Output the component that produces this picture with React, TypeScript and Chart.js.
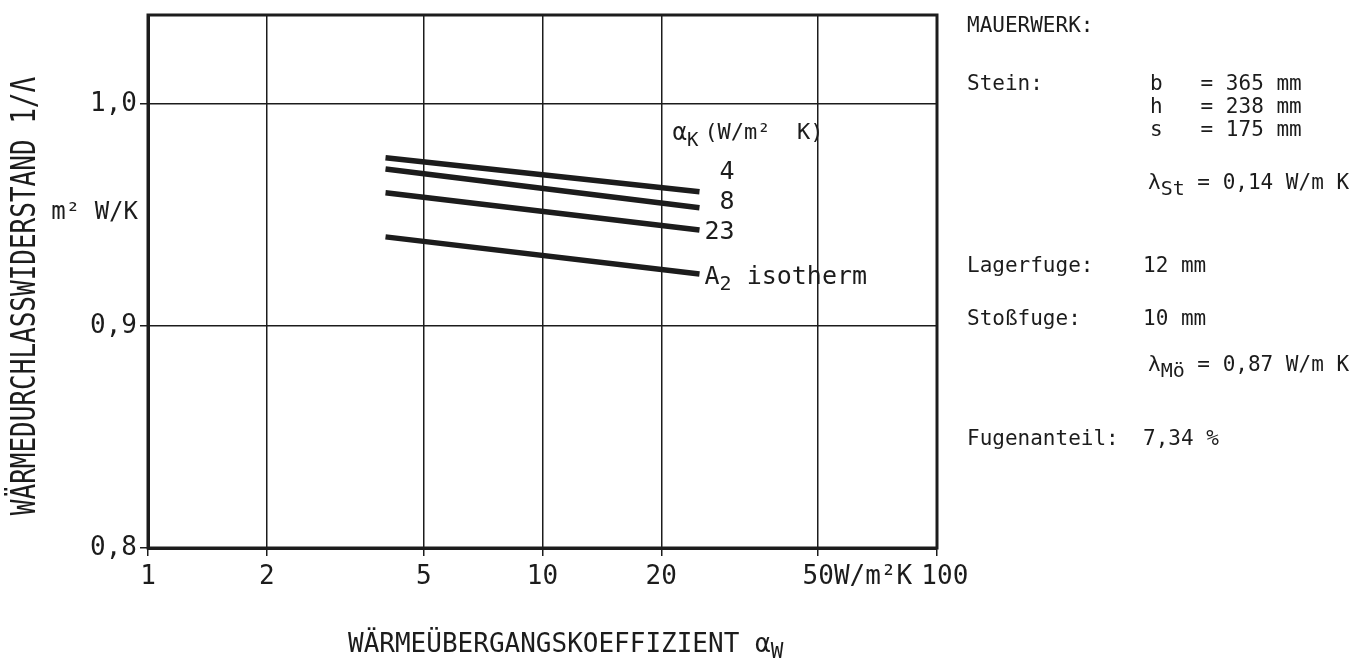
import React, { useEffect, useRef } from "react";
import { Chart, registerables } from "chart.js";

Chart.register(...registerables);

// ---- data ----
const alphaW = [4, 25];
const r4 = [0.9757, 0.9604];
const r8 = [0.9707, 0.9532];
const r23 = [0.96, 0.9432];
const rIso = [0.9401, 0.9234];
const seriesLabels = [" 4", " 8", "23", "A"];
const labelDy = [-19, -5, 3, 4];

const xTicks = [1, 2, 5, 10, 20, 50, 100];
const xTickLabels = ["1", "2", "5", "10", "20", "     50W/m²K", " 100"];
const yTicks = [0.8, 0.9, 1.0];
const yTickLabels = ["0,8", "0,9", "1,0"];

const FONT = '"DejaVu Sans Mono", "Liberation Mono", monospace';
const INK = "#1c1c1c";

function drawSub(
  ctx: CanvasRenderingContext2D,
  x: number,
  y: number,
  main: string,
  sub: string,
  rest: string,
  size: number,
  subDy = 6,
  subScale = 0.8,
  gap = 0,
  restSize = 0
) {
  ctx.font = `${size}px ${FONT}`;
  ctx.fillText(main, x, y);
  let cx = x + ctx.measureText(main).width;
  ctx.font = `${Math.round(size * subScale)}px ${FONT}`;
  ctx.fillText(sub, cx, y + subDy);
  cx += ctx.measureText(sub).width + gap;
  ctx.font = `${restSize || size}px ${FONT}`;
  ctx.fillText(rest, cx, y);
}

const decorPlugin = {
  id: "decor",
  afterDraw(chart: any) {
    const { ctx, chartArea: a, scales } = chart;
    const xs = scales.x;
    const ys = scales.y;
    ctx.save();
    // frame
    ctx.strokeStyle = INK;
    ctx.lineWidth = 3;
    ctx.strokeRect(a.left, a.top, a.right - a.left, a.bottom - a.top);

    ctx.fillStyle = INK;
    ctx.textBaseline = "middle";
    ctx.textAlign = "left";

    // series labels at line ends
    const sets = chart.data.datasets;
    sets.forEach((ds: any, i: number) => {
      const last = ds.data[ds.data.length - 1];
      const px = xs.getPixelForValue(last.x) + 5;
      const py = ys.getPixelForValue(last.y) + labelDy[i];
      if (i === 3) {
        drawSub(ctx, px, py, "A", "2", " isotherm", 25, 7);
      } else {
        ctx.font = `25px ${FONT}`;
        ctx.fillText(seriesLabels[i], px, py);
      }
    });
    // alpha_K header
    const hx = xs.getPixelForValue(alphaW[1]) - 27;
    const hy = ys.getPixelForValue(r4[1]) - 58;
    drawSub(ctx, hx, hy, "α", "K", "(W/m²  K)", 24, 7, 0.8, 6, 22);

    // y unit
    ctx.font = `24px ${FONT}`;
    ctx.textAlign = "right";
    ctx.fillText("m² W/K", a.left - 10, 213);

    // y axis title (condensed, tall glyphs)
    ctx.textAlign = "center";
    ctx.font = `26px ${FONT}`;
    ctx.save();
    ctx.translate(26, 296);
    ctx.rotate(-Math.PI / 2);
    ctx.scale(1, 1.3);
    ctx.fillText("WÄRMEDURCHLASSWIDERSTAND 1/Λ", 0, 0);
    ctx.restore();

    // x axis title
    ctx.textAlign = "left";
    ctx.font = `26px ${FONT}`;
    const xt = "WÄRMEÜBERGANGSKOEFFIZIENT ";
    ctx.fillText(xt, 348, 645);
    const tw = ctx.measureText(xt).width;
    drawSub(ctx, 348 + tw, 645, "α", "W", "", 26, 8);

    // right panel
    const L = a.right + 30;
    const fs = 21;
    ctx.font = `${fs}px ${FONT}`;
    ctx.fillText("MAUERWERK:", L, 27);
    ctx.fillText("Stein:", L, 85);
    ctx.fillText("b   = 365 mm", 1150, 85);
    ctx.fillText("h   = 238 mm", 1150, 108);
    ctx.fillText("s   = 175 mm", 1150, 131);
    drawSub(ctx, 1148, 184, "λ", "St", " = 0,14 W/m K", fs, 6, 0.95);
    ctx.font = `${fs}px ${FONT}`;
    ctx.fillText("Lagerfuge:", L, 267);
    ctx.fillText("12 mm", 1143, 267);
    ctx.fillText("Stoßfuge:", L, 320);
    ctx.fillText("10 mm", 1143, 320);
    drawSub(ctx, 1148, 366, "λ", "Mö", " = 0,87 W/m K", fs, 6, 0.95);
    ctx.font = `${fs}px ${FONT}`;
    ctx.fillText("Fugenanteil:", L, 440);
    ctx.fillText("7,34 %", 1143, 440);
    ctx.restore();
  },
};

export default function App() {
  const ref = useRef<HTMLCanvasElement | null>(null);
  useEffect(() => {
    if (!ref.current) return;
    const mk = (vals: number[]) => alphaW.map((x, i) => ({ x, y: vals[i] }));
    const lineStyle = {
      borderColor: INK,
      borderWidth: 5.5,
      pointRadius: 0,
      fill: false,
      tension: 0,
      borderCapStyle: "butt" as const,
    };
    const chart = new Chart(ref.current, {
      type: "line",
      data: {
        datasets: [
          { label: "4", data: mk(r4), ...lineStyle },
          { label: "8", data: mk(r8), ...lineStyle },
          { label: "23", data: mk(r23), ...lineStyle },
          { label: "A2 isotherm", data: mk(rIso), ...lineStyle },
        ],
      },
      options: {
        animation: false,
        responsive: false,
        events: [],
        layout: { padding: { left: 0, top: 15, right: 431, bottom: 0 } },
        plugins: { legend: { display: false }, tooltip: { enabled: false } },
        scales: {
          x: {
            type: "logarithmic",
            min: 1,
            max: 100,
            afterBuildTicks: (s: any) => {
              s.ticks = xTicks.map((v) => ({ value: v }));
            },
            afterFit: (s: any) => {
              s.height = 123;
              s.paddingLeft = 0;
              s.paddingRight = 0;
            },
            ticks: {
              autoSkip: false,
              maxRotation: 0,
              minRotation: 0,
              padding: 6,
              color: INK,
              font: { family: FONT, size: 26 },
              callback: (v: any) => {
                const i = xTicks.indexOf(Number(v));
                return i >= 0 ? xTickLabels[i] : "";
              },
            },
            grid: { color: INK, lineWidth: 1.5, tickLength: 8, drawTicks: true },
            border: { color: INK, width: 3 },
          },
          y: {
            type: "linear",
            min: 0.8,
            max: 1.04,
            afterBuildTicks: (s: any) => {
              s.ticks = yTicks.map((v) => ({ value: v }));
            },
            afterFit: (s: any) => {
              s.width = 148;
              s.paddingTop = 0;
              s.paddingBottom = 0;
            },
            ticks: {
              padding: 3,
              color: INK,
              font: { family: FONT, size: 26 },
              callback: (v: any) => {
                const i = yTicks.findIndex((t) => Math.abs(t - Number(v)) < 1e-6);
                return i >= 0 ? yTickLabels[i] : "";
              },
            },
            grid: { color: INK, lineWidth: 1.5, tickLength: 8, drawTicks: true },
            border: { color: INK, width: 3 },
          },
        },
      },
      plugins: [decorPlugin],
    });
    return () => chart.destroy();
  }, []);
  return (
    <div style={{ position: "absolute", left: 0, top: 0, width: 1368, height: 671, background: "#fff" }}>
      <canvas ref={ref} width={1368} height={671} style={{ display: "block", width: 1368, height: 671 }} />
    </div>
  );
}
